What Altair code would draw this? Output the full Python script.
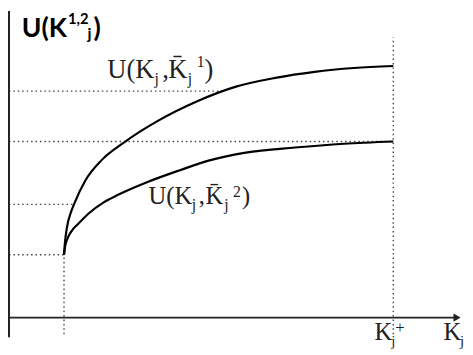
import altair as alt
import pandas as pd

# ---- curve values (K_j, U) ----
k_upper = [1.432, 1.458, 1.509, 1.611, 1.688, 1.995, 2.404, 3.018, 3.862, 4.885, 5.908, 6.931, 7.954, 8.977, 10.0]
u_upper = [2.5, 3.01, 3.59, 4.18, 4.49, 5.47, 6.25, 6.99, 7.81, 8.59, 9.18, 9.53, 9.77, 9.92, 10.0]

k_lower = [1.432, 1.458, 1.509, 1.611, 1.816, 2.072, 2.455, 2.839, 3.606, 4.450, 5.217, 6.164, 7.442, 8.721, 10.0]
u_lower = [2.5, 2.81, 3.09, 3.40, 3.75, 4.14, 4.57, 4.88, 5.39, 5.86, 6.25, 6.56, 6.76, 6.91, 7.0]

# guide levels
u_levels = [2.5, 4.5, 7.0, 9.0]
u_level_k = [1.432, 1.69, 10.0, 5.6]
k_marks = [1.432, 10.0]
k_marks_top = [2.5, 11.13]

# ---- scales ----
XD = [-0.0256, 11.867]
YD = [-1.367, 12.1875]
xs = alt.Scale(domain=XD, nice=False, zero=False)
ys = alt.Scale(domain=YD, nice=False, zero=False)

curves = pd.DataFrame({
    "k": k_upper + k_lower,
    "u": u_upper + u_lower,
    "s": ["1"] * len(k_upper) + ["2"] * len(k_lower),
})

hdots = pd.DataFrame({"u": u_levels, "k0": [0.0] * 4, "k1": u_level_k})
vdots = pd.DataFrame({"k": k_marks, "u0": [-0.66, -0.66], "u1": k_marks_top})

dot_style = dict(color="#444", strokeWidth=1.4, strokeDash=[1.5, 3])

h_rules = alt.Chart(hdots).mark_rule(**dot_style).encode(
    x=alt.X("k0:Q", scale=xs, axis=None), x2="k1:Q",
    y=alt.Y("u:Q", scale=ys, axis=None))
v_rules = alt.Chart(vdots).mark_rule(**dot_style).encode(
    x=alt.X("k:Q", scale=xs, axis=None),
    y=alt.Y("u0:Q", scale=ys, axis=None), y2="u1:Q")

lines = alt.Chart(curves).mark_line(interpolate="monotone", color="black", strokeWidth=2.2).encode(
    x=alt.X("k:Q", scale=xs, axis=None),
    y=alt.Y("u:Q", scale=ys, axis=None),
    detail="s:N")

# axes drawn as rules
ax_y = alt.Chart(pd.DataFrame({"k": [0.0], "u0": [-0.78], "u1": [12.19]})).mark_rule(
    color="#222", strokeWidth=2).encode(
    x=alt.X("k:Q", scale=xs, axis=None),
    y=alt.Y("u0:Q", scale=ys, axis=None), y2="u1:Q")
ax_x = alt.Chart(pd.DataFrame({"k0": [-0.03], "k1": [11.6], "u": [0.0]})).mark_rule(
    color="#222", strokeWidth=2).encode(
    x=alt.X("k0:Q", scale=xs, axis=None), x2="k1:Q",
    y=alt.Y("u:Q", scale=ys, axis=None))
arrow = alt.Chart(pd.DataFrame({"k": [11.66], "u": [0.0]})).mark_point(
    shape="triangle-right", filled=True, size=70, color="#222", opacity=1).encode(
    x=alt.X("k:Q", scale=xs, axis=None),
    y=alt.Y("u:Q", scale=ys, axis=None))

# ---- text pieces (text, page-x, page-baseline, size) ----
def px(x):
    return (x - 9) / 39.1

def py(y):
    return (320 - y) / 25.6

title_parts = [("U(K", 22, 34, 27), ("1,2", 69, 21, 15), ("j", 89, 37, 16), (")", 95, 34, 27)]
serif_parts = [
    ("U(K", 109, 76, 27), ("j", 157, 82, 16), (",", 165, 76, 27), ("K\u0304", 171, 76, 27),
    ("j", 191, 82, 16), ("1", 200, 65, 16), (")", 208, 76, 27),
    ("U(K", 151, 204, 25), ("j", 195, 210, 16), (",", 202, 204, 25), ("K\u0304", 209, 204, 25),
    ("j", 228, 210, 16), ("2", 237, 197, 16), (")", 246, 204, 25),
    ("K", 381, 343, 25), ("j", 398, 349, 15), ("+", 402, 336, 17),
    ("K", 451, 343, 25), ("j", 468, 349, 15),
]

def text_df(parts):
    return pd.DataFrame({
        "t": [p[0] for p in parts],
        "k": [px(p[1]) for p in parts],
        "u": [py(p[2]) for p in parts],
        "size": [p[3] for p in parts],
    })

title_txt = alt.Chart(text_df(title_parts)).mark_text(
    align="left", baseline="alphabetic", font="Lato", fontWeight="bold", color="black").encode(
    x=alt.X("k:Q", scale=xs, axis=None), y=alt.Y("u:Q", scale=ys, axis=None),
    text="t:N", size=alt.Size("size:Q", scale=None))
serif_txt = alt.Chart(text_df(serif_parts)).mark_text(
    align="left", baseline="alphabetic", font="Liberation Serif", color="#222").encode(
    x=alt.X("k:Q", scale=xs, axis=None), y=alt.Y("u:Q", scale=ys, axis=None),
    text="t:N", size=alt.Size("size:Q", scale=None))

chart = alt.layer(h_rules, v_rules, ax_x, ax_y, arrow, lines, title_txt, serif_txt).properties(
    width=465, height=347, autosize=alt.AutoSizeParams(type="none"), padding=0,
    background="white",
).configure_view(stroke=None)

chart.save("out.html", embed_options={"renderer": "svg", "actions": False})
